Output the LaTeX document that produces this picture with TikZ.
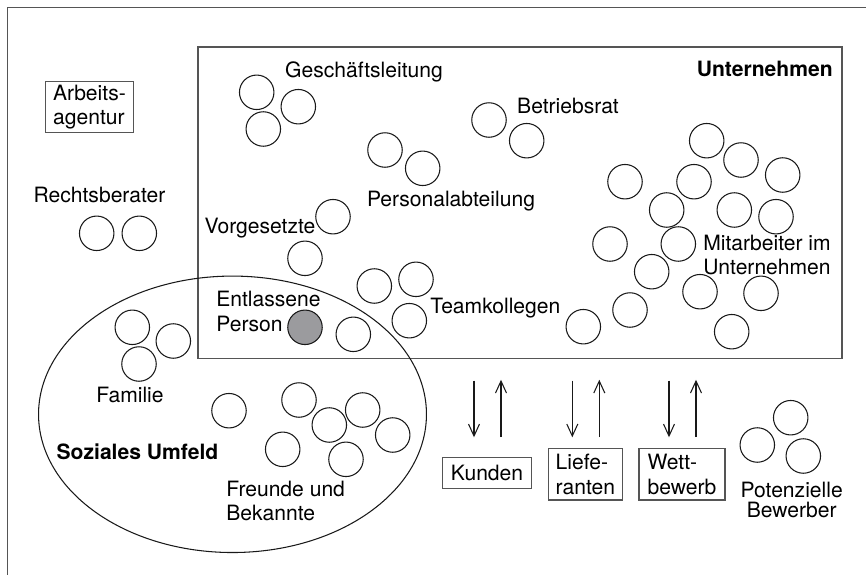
\documentclass[tikz,border=0pt]{standalone}
\usepackage{fontspec}
\setmainfont{TeX Gyre Heros}
\usetikzlibrary{arrows.meta,positioning,shapes.geometric,calc}
\definecolor{ink}{RGB}{25,25,25}
\definecolor{frame}{RGB}{85,85,85}
\definecolor{fired}{RGB}{155,155,158}
\tikzset{
  >={Straight Barb[length=2.4mm,width=2.2mm]},
  pers/.style={circle,draw=ink,line width=0.6pt,fill=#1,minimum size=6.9mm,inner sep=0pt},
  pers/.default=white,
  box/.style={draw=frame,line width=0.8pt,align=left,inner sep=0pt,
    font=\fontsize{12}{14}\selectfont},
  lbl/.style={inner sep=0pt,align=#1,font=\fontsize{12}{14}\selectfont},
  lbl/.default=center,
  head/.style={inner sep=0pt,font=\fontsize{12}{14}\selectfont\bfseries},
  flow/.style={->,line width=0.6pt,draw=ink},
}

\begin{document}
\begin{tikzpicture}[x=0.02cm,y=-0.02cm]
  \useasboundingbox (0,0) rectangle (866,575);
  \draw[frame,line width=0.8pt] (7.5,575) -- (7.5,7.5) -- (866,7.5);
  % company and social surroundings
  \node[draw=frame,line width=0.8pt,minimum width=12.89cm,minimum height=6.23cm] (unt) at (520,202.75) {};
  \node[ellipse,draw=ink,line width=0.6pt,minimum width=7.76cm,minimum height=5.53cm] (umf) at (232.5,414.3) {};
  \node[head,anchor=east] (untl) at (833,69) {Unternehmen};
  \node[head] (umfl) at (137.5,452) {Soziales Umfeld};
  % people
  \foreach \n/\x/\y in {gl1/256.7/92.3,gl2/298.3/106.7,gl3/263.3/129,
    br1/489/120,br2/526.7/140.7,pa1/385/150,pa2/422.7/168.3,
    vg1/333/216.7,vg2/305/258.3,
    tk1/374.3/286,tk2/416/279.3,tk3/409.3/320.7,tk4/353.3/334.3,
    ma1/706.7/140.7,ma2/741/160,ma3/782.7/175,ma4/625/181.7,ma5/694/181.7,
    ma6/666.7/210,ma7/734.3/210,ma8/776/216.7,ma9/610/244,ma10/678.3/244,
    ma11/651.7/271.7,ma12/700/291.7,ma13/761/293.3,ma14/630/310,
    ma15/731.7/331.7,ma16/583.3/326.7,
    rb1/96.7/233.3,rb2/139.3/233.3,
    fa1/132.3/327.3,fa2/173.3/341,fa3/139/364,
    fr1/229/410.7,fr2/299/400,fr3/329.3/425,fr4/362.7/410,fr5/392.7/435,
    fr6/282.7/449.3,fr7/346/459.3,
    pb1/790.7/417.7,pb2/757.3/445,pb3/803.3/456}
    \node[pers] (\n) at (\x,\y) {};
  \node[pers=fired] (ep) at (305,327.3) {};
  % labels
  \node[lbl] (gll) at (364,72) {Geschäftsleitung};
  \node[lbl] (brl) at (568,106) {Betriebsrat};
  \node[lbl] (pal) at (451,201) {Personalabteilung};
  \node[lbl] (vgl) at (260,228) {Vorgesetzte};
  \node[lbl=left,anchor=west] (epl) at (216,311.3) {Entlassene\\Person};
  \node[lbl,anchor=west] (tkl) at (430,308) {Teamkollegen};
  \node[lbl=left,anchor=west] (mal) at (703,255) {Mitarbeiter im\\Unternehmen};
  \node[lbl] (rbl) at (99.5,195) {Rechtsberater};
  \node[lbl] (fal) at (130,395) {Familie};
  \node[lbl=left,anchor=west] (frl) at (226,501) {Freunde und\\Bekannte};
  \node[lbl,font=\fontsize{12}{11.5}\selectfont] (pbl) at (791.7,500) {Potenzielle\\Bewerber};
  % outside parties
  \node[box,minimum width=1.75cm,minimum height=1.02cm] (aa) at (89.5,107) {Arbeits-\\agentur};
  \node[box,minimum width=1.77cm,minimum height=0.61cm] (kd) at (487,473) {Kunden};
  \node[box,minimum width=1.48cm,minimum height=1.03cm] (lf) at (585.3,474.3) {Liefe-\\ranten};
  \node[box,minimum width=1.72cm,minimum height=1.03cm] (wb) at (682,474.3) {Wett-\\bewerb};
  \foreach \b in {kd,lf,wb} {
    \draw[flow] ($(\b.north |- unt.south)+(-13,21.4)$) -- ++(0,56.7);
    \draw[flow] ($(\b.north |- unt.south)+(14,78)$) -- ++(0,-57.4);
  }
\end{tikzpicture}
\end{document}
